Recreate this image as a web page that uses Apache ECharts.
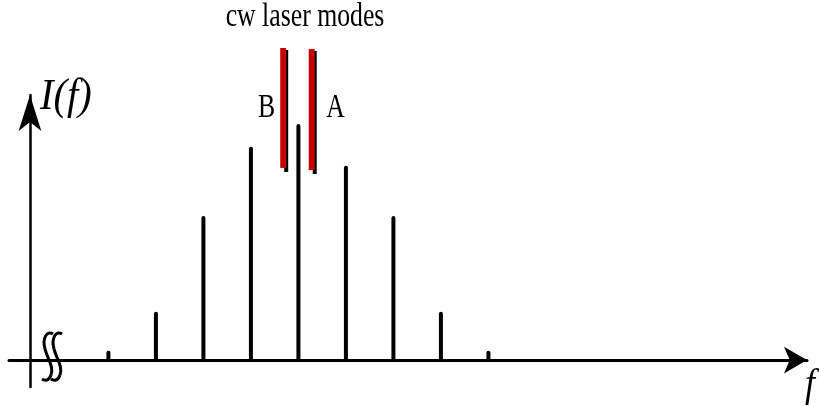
<!DOCTYPE html>
<html>
<head>
<meta charset="utf-8">
<title>cw laser modes</title>
<script src="https://cdn.jsdelivr.net/npm/echarts@6/dist/echarts.min.js"></script>
<style>
  html, body { margin: 0; padding: 0; background: #fff; }
  #chart { width: 819px; height: 407px; }
</style>
</head>
<body>
<div id="chart"></div>
<script>
// 模式序号 (中心模式为 0)
const modeIndex = [-4, -3, -2, -1, 0, 1, 2, 3, 4];
// 各模式强度 (中心模式归一化为 1)
const modeIntensity = [0.04, 0.205, 0.61, 0.904, 1, 0.823, 0.61, 0.205, 0.04];
// cw 激光模式 B, A
const laserNames = ['B', 'A'];
const laserPos = [-0.32, 0.28];
const laserTop = [1.322, 1.318];
const laserBottom = [0.814, 0.805];

const chart = echarts.init(document.getElementById('chart'), null, { renderer: 'canvas' });

const serif = '"Liberation Serif", "DejaVu Serif", serif';

// 坐标轴断开符号 (一段 S 形曲线, dx 为水平偏移)
function breakMark(dx) {
  const seg = (x1, y1, cpx1, cpy1, cpx2, cpy2, x2, y2) => ({
    type: 'bezierCurve',
    z: 10,
    shape: { x1: x1 + dx, y1, cpx1: cpx1 + dx, cpy1, cpx2: cpx2 + dx, cpy2, x2: x2 + dx, y2 },
    style: { stroke: '#000', fill: null, lineWidth: 3 },
  });
  return [
    seg(53, 334, 47, 330, 42, 338, 45, 349),
    seg(45, 349, 48, 360, 54, 367, 51, 375),
    seg(51, 375, 49, 381, 45, 381, 42, 379),
  ];
}

const option = {
  backgroundColor: '#fff',
  animation: false,
  grid: {
    left: 9,
    right: 12,
    top: 95,
    bottom: 20,
  },
  xAxis: {
    type: 'value',
    min: -6.093,
    max: 10.707,
    axisLine: {
      onZero: true,
      symbol: ['none', 'arrow'],
      symbolSize: [20, 23],
      lineStyle: { color: '#000', width: 3 },
    },
    axisTick: { show: false },
    axisLabel: { show: false },
    splitLine: { show: false },
  },
  yAxis: {
    type: 'value',
    min: -0.114,
    max: 1.123,
    offset: -21, // 纵轴放在 x=30 处
    axisLine: {
      show: true,
      onZero: false,
      symbol: ['none', 'arrow'],
      symbolSize: [17, 36],
      lineStyle: { color: '#000', width: 2.5 },
    },
    axisTick: { show: false },
    axisLabel: { show: false },
    splitLine: { show: false },
  },
  series: [
    {
      // 各纵模谱线
      type: 'bar',
      barWidth: 4,
      itemStyle: {
        color: '#000',
        borderRadius: [2, 2, 0, 0],
      },
      data: modeIndex.map((n, i) => [n, modeIntensity[i]]),
      z: 3,
    },
    {
      // 红色 cw 激光线 (带黑色阴影)
      type: 'custom',
      clip: false,
      data: laserPos.map((p, i) => [p, laserTop[i], laserBottom[i]]),
      renderItem(params, api) {
        const top = api.coord([api.value(0), api.value(1)]);
        const bottom = api.coord([api.value(0), api.value(2)]);
        return {
          type: 'group',
          children: [
            {
              type: 'line',
              shape: { x1: top[0] + 3, y1: top[1] + 2, x2: bottom[0] + 3, y2: bottom[1] + 4 },
              style: { stroke: '#000', lineWidth: 4 },
            },
            {
              type: 'line',
              shape: { x1: top[0], y1: top[1], x2: bottom[0], y2: bottom[1] },
              style: { stroke: '#c40000', lineWidth: 6 },
            },
          ],
        };
      },
      z: 4,
    },
  ],
  graphic: [
    {
      type: 'text',
      x: 305,
      y: 17,
      scaleX: 0.78,
      style: { text: 'cw laser modes', font: '33px ' + serif, fill: '#000', align: 'center', verticalAlign: 'middle' },
    },
    {
      type: 'text',
      x: 266.5,
      y: 108,
      scaleX: 0.78,
      style: { text: laserNames[0], font: '33px ' + serif, fill: '#000', align: 'center', verticalAlign: 'middle' },
    },
    {
      type: 'text',
      x: 335.5,
      y: 108,
      scaleX: 0.78,
      style: { text: laserNames[1], font: '33px ' + serif, fill: '#000', align: 'center', verticalAlign: 'middle' },
    },
    {
      type: 'text',
      x: 40,
      y: 97,
      scaleX: 0.92,
      style: { text: 'I(f)', font: 'italic 44px ' + serif, fill: '#000', align: 'left', verticalAlign: 'middle' },
    },
    {
      type: 'text',
      x: 810,
      y: 385,
      scaleX: 0.9,
      style: { text: 'f', font: 'italic 40px ' + serif, fill: '#000', align: 'center', verticalAlign: 'middle' },
    },
  ].concat(breakMark(0), breakMark(9)),
};

chart.setOption(option);
</script>
</body>
</html>
